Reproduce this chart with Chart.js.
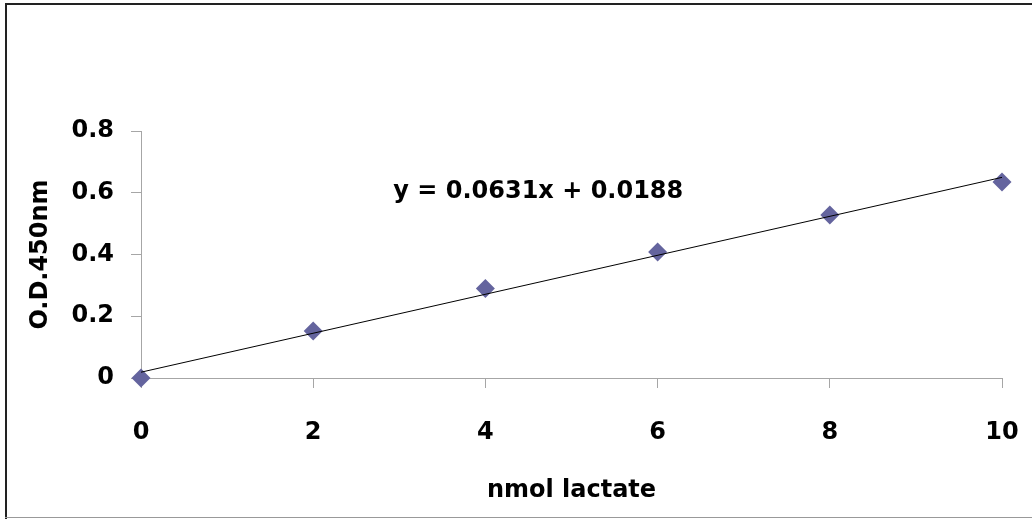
<!DOCTYPE html>
<html>
<head>
<meta charset="utf-8">
<script src="https://cdn.jsdelivr.net/npm/chart.js@4"></script>
<style>
  html, body { margin: 0; padding: 0; background: #fff; }
  #wrap { width: 1032px; height: 519px; }
</style>
</head>
<body>
<div id="wrap"><canvas id="odChart" width="1032" height="519"></canvas></div>
<script>
// Data
const lactate = [0, 2, 4, 6, 8, 10];
const odValues = [0, 0.152, 0.29, 0.408, 0.528, 0.635];
const slope = 0.0631;
const intercept = 0.0188;
const equationText = 'y = 0.0631x + 0.0188';
const xTicks = [0, 2, 4, 6, 8, 10];
const yTicks = [0, 0.2, 0.4, 0.6, 0.8];

const fontFamily = '"DejaVu Sans", sans-serif';
const axisGrey = '#A6A6A6';

// Trendline end points from the fit
const trendX = [lactate[0], lactate[lactate.length - 1]];
const trendPoints = trendX.map(x => ({ x: x, y: slope * x + intercept }));

const framePlugin = {
    id: 'frame',
    beforeDraw(chart) {
        const c = chart.ctx;
        c.save();
        c.fillStyle = '#fff';
        c.fillRect(0, 0, chart.width, chart.height);
        c.fillStyle = '#222';
        c.fillRect(5, 3, chart.width - 5, 2);
        c.fillRect(5, 3, 2, chart.height - 3);
        c.fillStyle = '#999';
        c.fillRect(5, chart.height - 2, chart.width - 5, 1);
        c.restore();
    }
};

const equationPlugin = {
    id: 'equation',
    afterDatasetsDraw(chart) {
        const c = chart.ctx;
        const px = chart.scales.x.getPixelForValue(2.93);
        const py = chart.scales.y.getPixelForValue(0.604);
        c.save();
        c.font = 'bold 24px ' + fontFamily;
        c.fillStyle = '#000';
        c.textAlign = 'left';
        c.textBaseline = 'middle';
        c.fillText(equationText, px, py);
        c.restore();
    }
};

const ctx = document.getElementById('odChart').getContext('2d');
const odChart = new Chart(ctx, {
    type: 'scatter',
    data: {
        datasets: [{
            label: 'Linear fit',
            data: trendPoints,
            showLine: true,
            borderColor: '#000',
            borderWidth: 1,
            pointRadius: 0,
            fill: false,
            clip: false,
            order: 0
        }, {
            label: 'O.D.450nm',
            data: lactate.map((x, i) => ({ x: x, y: odValues[i] })),
            pointStyle: 'rectRot',
            pointRadius: 9.5,
            pointBackgroundColor: '#64649E',
            pointBorderColor: '#64649E',
            pointBorderWidth: 0,
            clip: false,
            order: 1
        }]
    },
    options: {
        responsive: false,
        animation: false,
        layout: { autoPadding: false, padding: { top: 131, right: 30, left: 0, bottom: 0 } },
        plugins: {
            legend: { display: false },
            tooltip: { enabled: false }
        },
        scales: {
            x: {
                type: 'linear',
                min: 0,
                max: 10,
                afterBuildTicks: s => { s.ticks = xTicks.map(v => ({ value: v })); },
                afterFit: s => {
                    s.height = 141;
                    s.paddingLeft = 0;
                    s.paddingRight = 0;
                },
                grid: { drawOnChartArea: false, drawTicks: true, tickLength: 10, color: axisGrey },
                border: { color: axisGrey, width: 1 },
                ticks: {
                    padding: 30,
                    color: '#000',
                    font: { family: fontFamily, size: 24, weight: 'bold' }
                },
                title: {
                    display: true,
                    text: 'nmol lactate',
                    color: '#000',
                    padding: { top: 0, bottom: 14 },
                    font: { family: fontFamily, size: 24, weight: 'bold' }
                }
            },
            y: {
                type: 'linear',
                min: 0,
                max: 0.8,
                afterBuildTicks: s => { s.ticks = yTicks.map(v => ({ value: v })); },
                afterFit: s => { s.width = 141; },
                grid: { drawOnChartArea: false, drawTicks: true, tickLength: 10, color: axisGrey },
                border: { color: axisGrey, width: 1 },
                ticks: {
                    padding: 17,
                    color: '#000',
                    font: { family: fontFamily, size: 24, weight: 'bold' },
                    callback: v => String(Math.round(v * 10) / 10)
                },
                title: {
                    display: true,
                    text: 'O.D.450nm',
                    color: '#000',
                    padding: { top: 26, bottom: 0 },
                    font: { family: fontFamily, size: 24, weight: 'bold' }
                }
            }
        }
    },
    plugins: [framePlugin, equationPlugin]
});
</script>
</body>
</html>
